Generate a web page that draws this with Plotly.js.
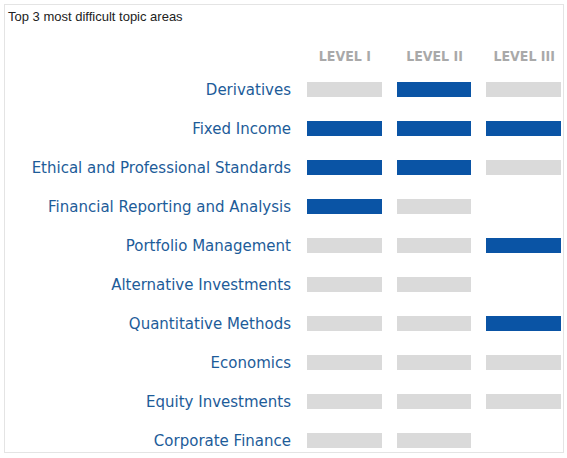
<!DOCTYPE html>
<html>
<head>
<meta charset="utf-8">
<script src="https://cdn.plot.ly/plotly-3.0.1.min.js"></script>
<style>
  html, body { margin: 0; padding: 0; overflow: hidden; background: #ffffff; }
  #frame { position: absolute; left: 4px; top: 4px; width: 558px; height: 447px;
           border: 1px solid #e4e4e4; pointer-events: none; }
  #chart { position: absolute; left: 0; top: 0; width: 570px; height: 462px; }
</style>
</head>
<body>
<div id="chart"></div>
<div id="frame"></div>
<script>
// Column headers (exam levels)
const levels = ["LEVEL I", "LEVEL II", "LEVEL III"];

// Topic areas (rows, top to bottom)
const topics = [
  "Derivatives",
  "Fixed Income",
  "Ethical and Professional Standards",
  "Financial Reporting and Analysis",
  "Portfolio Management",
  "Alternative Investments",
  "Quantitative Methods",
  "Economics",
  "Equity Investments",
  "Corporate Finance"
];

// 1 = among top 3 most difficult, 0 = tested but not top 3, null = not tested at that level
const levelI   = [0, 1, 1, 1, 0, 0, 0, 0, 0, 0];
const levelII  = [1, 1, 1, 0, 0, 0, 0, 0, 0, 0];
const levelIII = [0, 1, 0, null, 1, null, 1, 0, 0, null];

const z = topics.map((t, i) => [levelI[i], levelII[i], levelIII[i]]);

const gray = "#dadada";
const blue = "#0a54a5";

const trace = {
  type: "heatmap",
  x: levels,
  y: topics,
  z: z,
  zmin: 0,
  zmax: 1,
  colorscale: [[0, gray], [0.5, gray], [0.5, blue], [1, blue]],
  showscale: false,
  xgap: 15,
  ygap: 24,
  hoverinfo: "skip"
};

const layout = {
  width: 570,
  height: 462,
  margin: { l: 300, r: 1, t: 70, b: 2, pad: 0 },
  paper_bgcolor: "rgba(0,0,0,0)",
  plot_bgcolor: "rgba(0,0,0,0)",
  title: {
    text: "Top 3 most difficult topic areas",
    font: { family: "Liberation Sans, Arial, sans-serif", size: 13, color: "#222222" },
    xref: "container", x: 8 / 570, xanchor: "left",
    yref: "container", y: 1 - 16 / 462, yanchor: "middle"
  },
  xaxis: {
    side: "top",
    type: "category",
    range: [-0.5, 2.5],
    showgrid: false, zeroline: false, showline: false,
    ticks: "",
    ticklabelstandoff: 5,
    tickfont: { family: "DejaVu Sans Condensed, DejaVu Sans, sans-serif", size: 14, color: "#a9a9a9", weight: "bold" },
    fixedrange: true
  },
  yaxis: {
    type: "category",
    range: [9.5, -0.5],
    showgrid: false, zeroline: false, showline: false,
    ticks: "",
    ticklabelstandoff: 8,
    tickfont: { family: "DejaVu Sans, sans-serif", size: 15, color: "#1d5c99" },
    fixedrange: true
  },
  showlegend: false
};

Plotly.newPlot("chart", [trace], layout, { displayModeBar: false, staticPlot: true });
</script>
</body>
</html>
